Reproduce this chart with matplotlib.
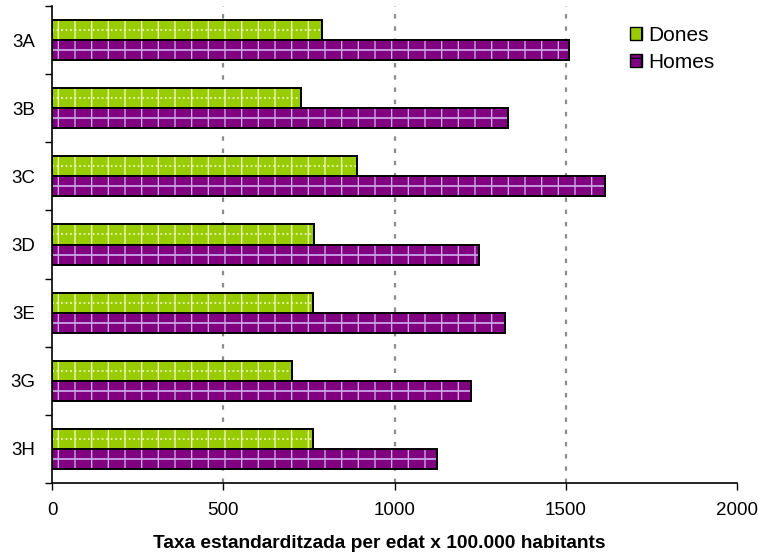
import numpy as np
import matplotlib.pyplot as plt
from matplotlib.patches import Patch

plt.rcParams['font.family'] = ['Liberation Sans', 'DejaVu Sans']

areas = ['3A', '3B', '3C', '3D', '3E', '3G', '3H']
dones = [789, 727, 890, 766, 762, 701, 762]
homes = [1510, 1330, 1616, 1248, 1322, 1224, 1123]

green = '#99cc00'
purple = '#800080'
bar_h = 0.295

fig = plt.figure(figsize=(7.58, 5.59), dpi=100)
ax = fig.add_axes([52 / 758, (559 - 483) / 559, (737 - 52) / 758, 477 / 559])

y = np.arange(len(areas))

for vals, off, face, hcol, ls in [(dones, -bar_h / 2, green, '#eaf7b5', (0, (1, 1.5))),
                                  (homes, bar_h / 2, purple, '#c9a6e6', '-')]:
    # fill with vertical hatch, a middle line, then a black outline on top
    ax.barh(y + off, vals, height=bar_h, color=face, edgecolor=hcol,
            hatch='|', linewidth=0, zorder=3)
    ax.hlines(y + off, 0, vals, colors=hcol, linestyles=ls, linewidth=1.3, zorder=3.5)
    ax.barh(y + off, vals, height=bar_h, fill=False, edgecolor='black',
            linewidth=1.4, zorder=4)

for xv in [500, 1000, 1500]:
    ax.axvline(xv, color='#8c8c8c', linestyle=(0, (2, 3.5)), linewidth=1.6, zorder=1)

ax.set_xlim(0, 2000)
ax.set_ylim(len(areas) - 0.5, -0.5)
ax.set_xticks([0, 500, 1000, 1500, 2000])
ax.set_yticks(y)
ax.set_yticklabels(areas)
ax.set_yticks(np.arange(len(areas) + 1) - 0.5, minor=True)
ax.tick_params(axis='y', which='major', length=0, pad=12, labelsize=13.5)
ax.tick_params(axis='y', which='minor', length=5, width=1, direction='out')
ax.tick_params(axis='x', length=5, width=1, direction='out', pad=9, labelsize=13.5)

for s in ['top', 'right']:
    ax.spines[s].set_visible(False)
for s in ['left', 'bottom']:
    ax.spines[s].set_linewidth(1.2)

ax.set_xlabel('Taxa estandarditzada per edat x 100.000 habitants',
              fontsize=13.8, fontweight='bold')
ax.xaxis.set_label_coords(0.478, -0.11)

handles = [Patch(facecolor=green, edgecolor='black', hatch='+', label='Dones'),
           Patch(facecolor=purple, edgecolor='black', hatch='+', label='Homes')]
ax.legend(handles=handles, loc='upper right', bbox_to_anchor=(0.995, 0.997),
          frameon=False, fontsize=15, handlelength=0.6, handleheight=0.6,
          handletextpad=0.3, labelspacing=0.38)

fig.savefig('out.png', dpi=100)
